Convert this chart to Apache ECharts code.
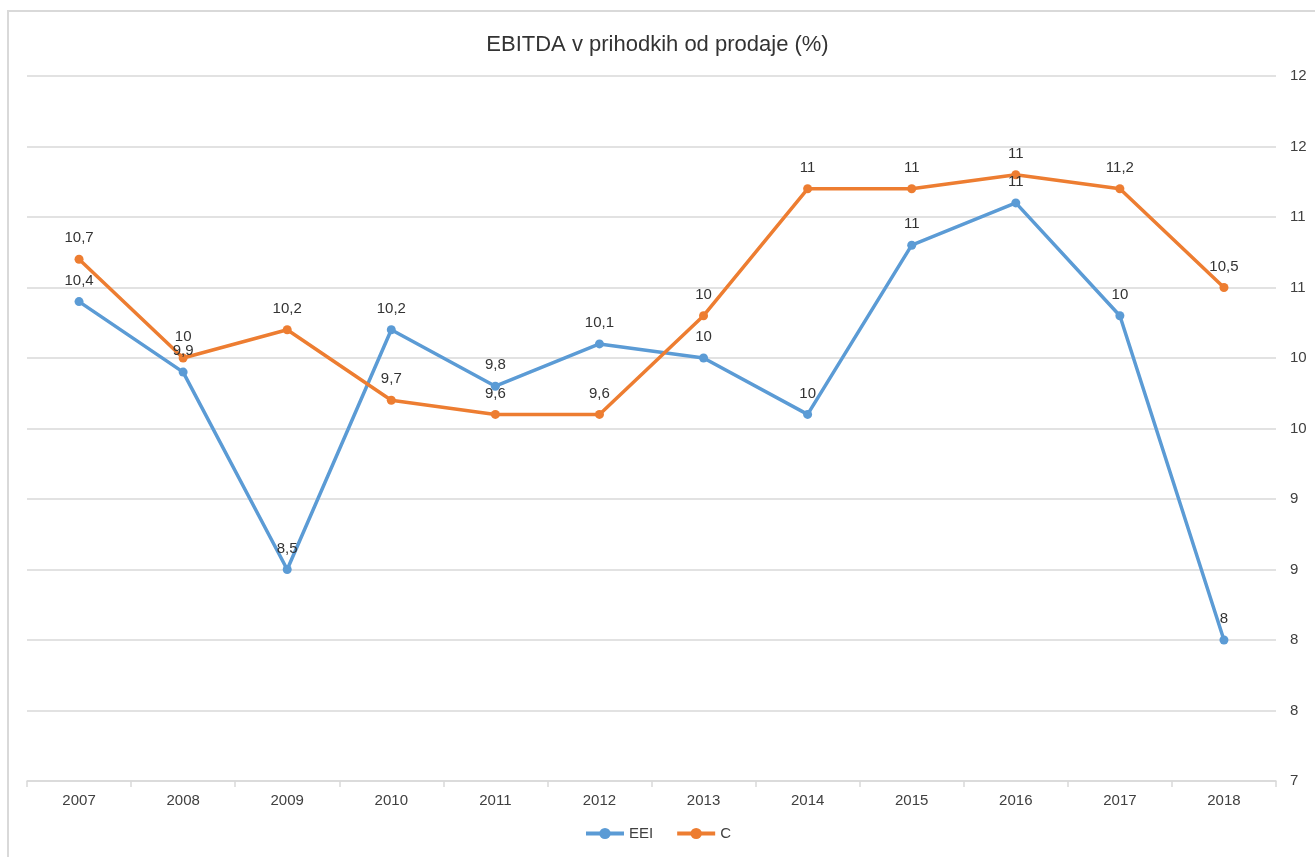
<!DOCTYPE html>
<html>
<head>
<meta charset="utf-8">
<title>EBITDA v prihodkih od prodaje (%)</title>
<script src="https://cdn.jsdelivr.net/npm/echarts@6/dist/echarts.min.js"></script>
<style>
    html, body { margin: 0; padding: 0; background: #fff; }
    #chart { width: 1315px; height: 857px; }
    #frame {
        position: absolute; left: 7px; top: 10px; width: 1400px; height: 900px;
        border-left: 2px solid #d9d9d9; border-top: 2px solid #d9d9d9;
        pointer-events: none;
    }
</style>
</head>
<body>
<div id="chart"></div>
<div id="frame"></div>
<script>
// podatki
var years = ['2007', '2008', '2009', '2010', '2011', '2012', '2013', '2014', '2015', '2016', '2017', '2018'];
var eeiValues = [10.4, 9.9, 8.5, 10.2, 9.8, 10.1, 10.0, 9.6, 10.8, 11.1, 10.3, 8.0];
var cValues = [10.7, 10.0, 10.2, 9.7, 9.6, 9.6, 10.3, 11.2, 11.2, 11.3, 11.2, 10.5];
// oznake, kot so v izvirniku
var eeiLabels = ['10,4', '9,9', '8,5', '10,2', '9,8', '10,1', '10', '10', '11', '11', '10', '8'];
var cLabels = ['10,7', '10', '10,2', '9,7', '9,6', '9,6', '10', '11', '11', '11', '11,2', '10,5'];

var font = 'Liberation Sans';
var blue = '#5B9BD5';
var orange = '#ED7D31';

var chart = echarts.init(document.getElementById('chart'));

function lineSeries(name, values, labels, color) {
    return {
        name: name,
        type: 'line',
        data: values,
        symbol: 'circle',
        symbolSize: 9,
        lineStyle: { width: 3.5, color: color },
        itemStyle: { color: color },
        label: {
            show: true,
            position: 'top',
            distance: 9,
            fontFamily: font,
            fontSize: 15,
            color: '#333',
            formatter: function (p) {
                return labels[p.dataIndex];
            }
        },
        emphasis: { disabled: true },
        animation: false
    };
}

var option = {
    backgroundColor: '#fff',
    textStyle: { fontFamily: font },
    title: {
        text: 'EBITDA v prihodkih od prodaje (%)',
        left: 'center',
        top: 29,
        textStyle: {
            fontFamily: font,
            fontSize: 22,
            fontWeight: 'normal',
            color: '#333'
        }
    },
    grid: {
        left: 27,
        right: 39,
        top: 76,
        bottom: 76,
        containLabel: false
    },
    legend: {
        bottom: 11,
        left: 'center',
        itemWidth: 38,
        itemHeight: 14,
        itemGap: 22,
        lineStyle: { width: 4 },
        textStyle: { fontFamily: font, fontSize: 15, color: '#404040' },
        data: ['EEI', 'C']
    },
    xAxis: {
        type: 'category',
        data: years,
        boundaryGap: true,
        axisLine: { lineStyle: { color: '#d9d9d9', width: 1.5 } },
        axisTick: { show: true, length: 6, lineStyle: { color: '#d9d9d9', width: 1.5 } },
        axisLabel: { fontFamily: font, fontSize: 15, color: '#404040', margin: 12 }
    },
    yAxis: {
        type: 'value',
        position: 'right',
        min: 7,
        max: 12,
        interval: 0.5,
        axisLine: { show: false },
        axisTick: { show: false },
        axisLabel: {
            fontFamily: font,
            fontSize: 15,
            color: '#404040',
            margin: 14,
            formatter: function (v) { return String(Math.round(v)); }
        },
        splitLine: { lineStyle: { color: '#d9d9d9', width: 1.5 } }
    },
    series: [
        lineSeries('EEI', eeiValues, eeiLabels, blue),
        lineSeries('C', cValues, cLabels, orange)
    ]
};

chart.setOption(option);

window.addEventListener('resize', function () {
    chart.resize();
});
</script>
</body>
</html>
